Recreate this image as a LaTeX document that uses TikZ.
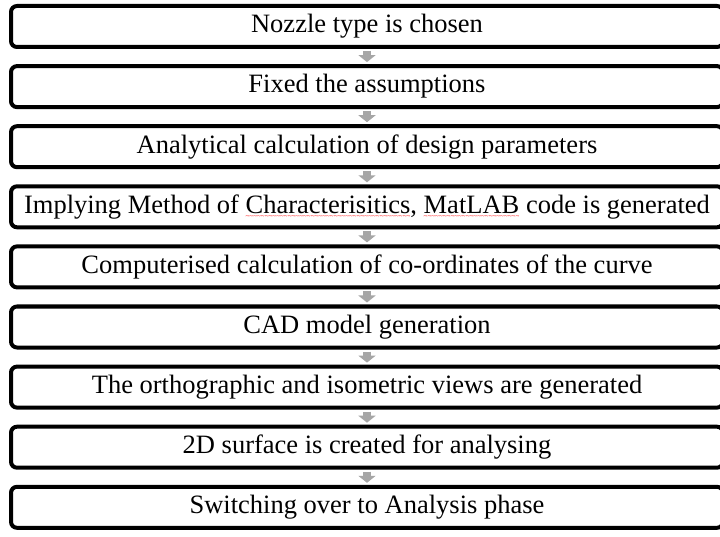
\documentclass[tikz,border=0pt]{standalone}
\usepackage{fontspec}
\setmainfont{Liberation Serif}
\usetikzlibrary{arrows.meta}
\newsavebox{\wavebox}
\newcommand\redwave[1]{\sbox{\wavebox}{#1}\rlap{\lower5pt\hbox to \wd\wavebox{\color{red}\fontsize{7}{7}\selectfont\xleaders\hbox{\char`\~}\hfil}}\usebox{\wavebox}}
\definecolor{arrgray}{RGB}{166,166,166}
\tikzset{
  stepbox/.style={draw=black, line width=4pt, rounded corners=6pt, minimum width=712pt, minimum height=41pt, inner sep=0pt, font=\fontsize{26.5}{28}\selectfont, fill=white},
  flowarrow/.style={draw=arrgray, line width=8pt, -{Triangle[width=17pt,length=7pt]}, shorten <=2pt, shorten >=2pt}
}
\begin{document}
\begin{tikzpicture}[x=1pt,y=1pt]
\useasboundingbox (0,0) rectangle (720,-537);
\clip (0,0) rectangle (720,-537);
\fill[white] (0,0) rectangle (720,-537);
\node[stepbox] (b1) at (367,-26.5) {Nozzle type is chosen};
\node[stepbox] (b2) at (367,-86.6) {Fixed the assumptions};
\node[stepbox] (b3) at (367,-146.7) {Analytical calculation of design parameters};
\node[stepbox] (b4) at (367,-206.8) {Implying Method of \redwave{Characterisitics}, \redwave{MatLAB} code is generated};
\node[stepbox] (b5) at (367,-266.9) {Computerised calculation of co-ordinates of the curve};
\node[stepbox] (b6) at (367,-327) {CAD model generation};
\node[stepbox] (b7) at (367,-387.1) {The orthographic and isometric views are generated};
\node[stepbox] (b8) at (367,-447.2) {2D surface is created for analysing};
\node[stepbox] (b9) at (367,-507.3) {Switching over to Analysis phase};
\foreach \a/\b in {b1/b2,b2/b3,b3/b4,b4/b5,b5/b6,b6/b7,b7/b8,b8/b9}
  \draw[flowarrow] (\a.south) -- (\b.north);
\end{tikzpicture}
\end{document}
